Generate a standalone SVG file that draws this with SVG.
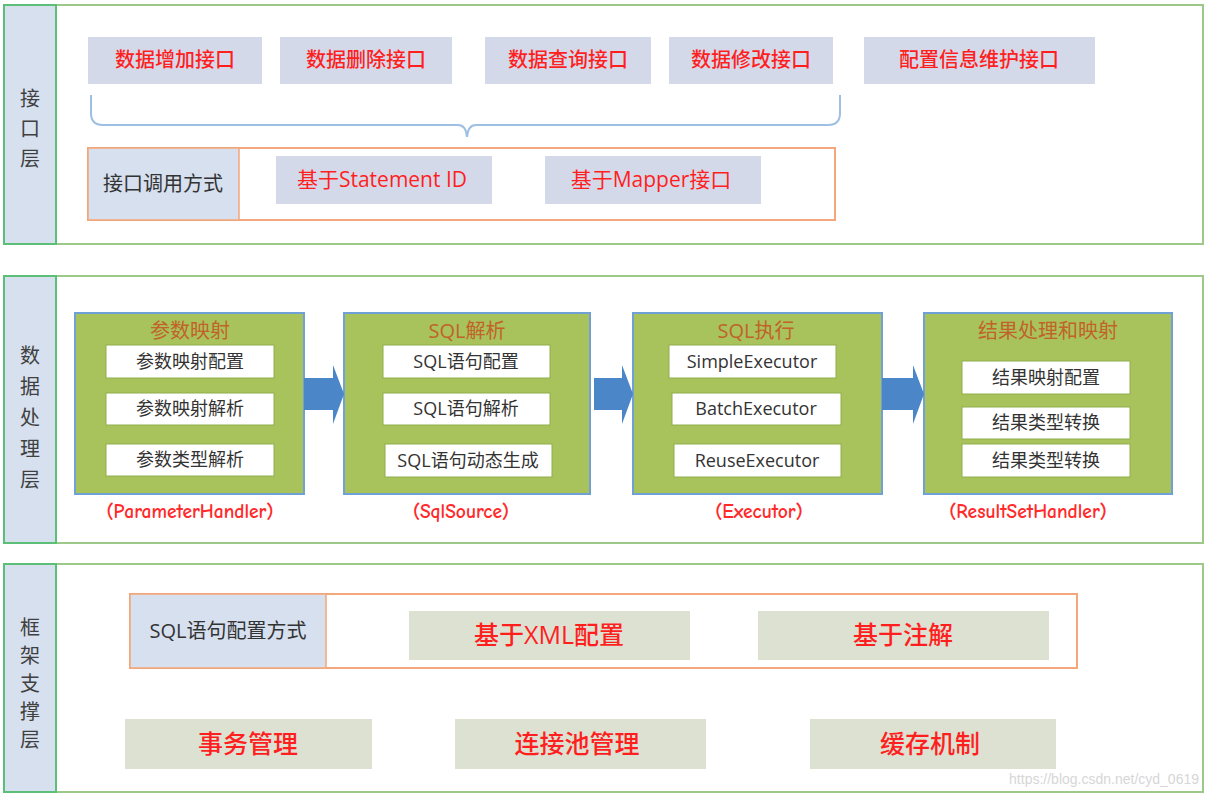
<svg xmlns="http://www.w3.org/2000/svg" width="1208" height="797" viewBox="0 0 1208 797">
<style>
.layer{fill:#fff;stroke:#9cc98a;stroke-width:2}
.strip{fill:#d7e0ef;stroke:#5cbf78;stroke-width:2}
.vt{font-family:"Noto Sans CJK SC",sans-serif;font-size:20px;fill:#404040;text-anchor:middle}
.lav{fill:#d4d9ea}
.gry{fill:#dce1d2}
.red{font-family:"Open Sans","Noto Sans CJK SC",sans-serif;font-size:20px;font-weight:500;fill:#ff1f1f;text-anchor:middle}
.redn{font-family:"Open Sans","Noto Sans CJK SC",sans-serif;font-size:21px;fill:#ff1f1f;text-anchor:middle}
.red2{font-family:"Open Sans","Noto Sans CJK SC",sans-serif;font-size:25px;font-weight:500;fill:#ff1f1f;text-anchor:middle}
.orange{fill:none;stroke:#f4a77a;stroke-width:2}
.cell{fill:#d7e0ef;stroke:#f4a77a;stroke-width:1.5}
.dark{font-family:"Open Sans","Noto Sans CJK SC",sans-serif;font-size:20px;fill:#333;text-anchor:middle}
.gbox{fill:#a9c35c;stroke:#6fa0d6;stroke-width:2}
.title{font-family:"Open Sans","Noto Sans CJK SC",sans-serif;font-size:20px;fill:#c0622a;text-anchor:middle}
.wbox{fill:#fff;stroke:#8fae4a;stroke-width:1}
.wt{font-family:"Open Sans","Noto Sans CJK SC",sans-serif;font-size:18px;fill:#333;text-anchor:middle}
.hnd{font-family:"Comic Neue","Open Sans","Noto Sans CJK SC",sans-serif;font-size:19.5px;font-weight:600;fill:#ff2a2a;text-anchor:middle}
.arrow{fill:#4a86c8}
</style>

<!-- Layer 1 -->
<g id="layer-interface">
<rect class="layer" x="4" y="5" width="1199" height="239"/>
<rect class="strip" x="4" y="5" width="52" height="239"/>
<text class="vt" x="30" y="106">接</text>
<text class="vt" x="30" y="136">口</text>
<text class="vt" x="30" y="166">层</text>
</g>
<g id="n-add"><rect class="lav" x="88" y="37" width="174" height="47"/><text class="red" x="175" y="67">数据增加接口</text></g>
<g id="n-del"><rect class="lav" x="280" y="37" width="172" height="47"/><text class="red" x="366" y="67">数据删除接口</text></g>
<g id="n-query"><rect class="lav" x="485" y="37" width="166" height="47"/><text class="red" x="568" y="67">数据查询接口</text></g>
<g id="n-mod"><rect class="lav" x="669" y="37" width="164" height="47"/><text class="red" x="751" y="67">数据修改接口</text></g>
<g id="n-conf"><rect class="lav" x="864" y="37" width="231" height="47"/><text class="red" x="979" y="67">配置信息维护接口</text></g>
<g id="connectors-brace">
<path d="M91,95 V113 Q91,125 103,125 H458 Q466,125 467,137 Q468,125 476,125 H828 Q840,125 840,113 V95" fill="none" stroke="#9dbfe3" stroke-width="2"/>
</g>
<g id="n-call">
<rect class="orange" x="88" y="148" width="747" height="72"/>
<rect class="cell" x="88" y="148" width="151" height="72"/>
<text class="dark" x="163" y="191">接口调用方式</text>
</g>
<g id="n-stmt"><rect class="lav" x="276" y="156" width="216" height="48"/><text class="redn" x="382" y="187">基于Statement ID</text></g>
<g id="n-mapper"><rect class="lav" x="545" y="156" width="216" height="48"/><text class="redn" x="651" y="187">基于Mapper接口</text></g>

<!-- Layer 2 -->
<g id="layer-data">
<rect class="layer" x="4" y="276" width="1199" height="267"/>
<rect class="strip" x="4" y="276" width="52" height="267"/>
<text class="vt" x="30" y="363">数</text>
<text class="vt" x="30" y="394">据</text>
<text class="vt" x="30" y="425">处</text>
<text class="vt" x="30" y="456">理</text>
<text class="vt" x="30" y="487">层</text>
</g>
<g id="n-param">
<rect class="gbox" x="75" y="313" width="229" height="181"/>
<text class="title" x="190" y="338">参数映射</text>
<rect class="wbox" x="106" y="345" width="168" height="33"/><text class="wt" x="190" y="368">参数映射配置</text>
<rect class="wbox" x="106" y="393" width="168" height="32"/><text class="wt" x="190" y="415">参数映射解析</text>
<rect class="wbox" x="106" y="444" width="168" height="32"/><text class="wt" x="190" y="466">参数类型解析</text>
<text class="hnd" x="190" y="518">(ParameterHandler)</text>
</g>
<g id="n-sql">
<rect class="gbox" x="344" y="313" width="246" height="181"/>
<text class="title" x="467" y="338">SQL解析</text>
<rect class="wbox" x="383" y="345" width="167" height="33"/><text class="wt" x="466" y="368">SQL语句配置</text>
<rect class="wbox" x="383" y="393" width="167" height="32"/><text class="wt" x="466" y="415">SQL语句解析</text>
<rect class="wbox" x="385" y="444" width="167" height="33"/><text class="wt" x="468" y="467">SQL语句动态生成</text>
<text class="hnd" x="461" y="518">(SqlSource)</text>
</g>
<g id="n-exec">
<rect class="gbox" x="633" y="313" width="249" height="181"/>
<text class="title" x="756" y="338">SQL执行</text>
<rect class="wbox" x="669" y="345" width="167" height="33"/><text class="wt" x="752" y="368">SimpleExecutor</text>
<rect class="wbox" x="672" y="393" width="169" height="32"/><text class="wt" x="756" y="415">BatchExecutor</text>
<rect class="wbox" x="674" y="444" width="167" height="33"/><text class="wt" x="757" y="467">ReuseExecutor</text>
<text class="hnd" x="759" y="518">(Executor)</text>
</g>
<g id="n-result">
<rect class="gbox" x="924" y="313" width="248" height="181"/>
<text class="title" x="1048" y="338">结果处理和映射</text>
<rect class="wbox" x="962" y="361" width="168" height="33"/><text class="wt" x="1046" y="384">结果映射配置</text>
<rect class="wbox" x="962" y="407" width="168" height="32"/><text class="wt" x="1046" y="429">结果类型转换</text>
<rect class="wbox" x="962" y="444" width="168" height="33"/><text class="wt" x="1046" y="467">结果类型转换</text>
<text class="hnd" x="1028" y="518">(ResultSetHandler)</text>
</g>
<g id="connectors">
<polygon class="arrow" points="304,378 333,378 333,365 344,394 333,424 333,410 304,410"/>
<polygon class="arrow" points="594,378 622,378 622,365 633,394 622,424 622,410 594,410"/>
<polygon class="arrow" points="882,378 913,378 913,365 924,394 913,424 913,410 882,410"/>
</g>

<!-- Layer 3 -->
<g id="layer-framework">
<rect class="layer" x="4" y="564" width="1199" height="228"/>
<rect class="strip" x="4" y="564" width="52" height="228"/>
<text class="vt" x="30" y="635">框</text>
<text class="vt" x="30" y="663">架</text>
<text class="vt" x="30" y="691">支</text>
<text class="vt" x="30" y="719">撑</text>
<text class="vt" x="30" y="747">层</text>
</g>
<g id="n-sqlconf">
<rect class="orange" x="130" y="594" width="947" height="74"/>
<rect class="cell" x="130" y="594" width="196" height="74"/>
<text class="dark" x="228" y="638">SQL语句配置方式</text>
</g>
<g id="n-xml"><rect class="gry" x="409" y="611" width="281" height="49"/><text class="red2" x="549" y="644">基于XML配置</text></g>
<g id="n-anno"><rect class="gry" x="758" y="611" width="291" height="49"/><text class="red2" x="903" y="644">基于注解</text></g>
<g id="n-tx"><rect class="gry" x="125" y="719" width="247" height="50"/><text class="red2" x="248" y="753">事务管理</text></g>
<g id="n-pool"><rect class="gry" x="455" y="719" width="251" height="50"/><text class="red2" x="577" y="753">连接池管理</text></g>
<g id="n-cache"><rect class="gry" x="810" y="719" width="246" height="50"/><text class="red2" x="930" y="753">缓存机制</text></g>
<text x="1199" y="784" text-anchor="end" font-family="Liberation Sans, sans-serif" font-size="14" fill="#d6d6d6">https://blog.csdn.net/cyd_0619</text>
</svg>
